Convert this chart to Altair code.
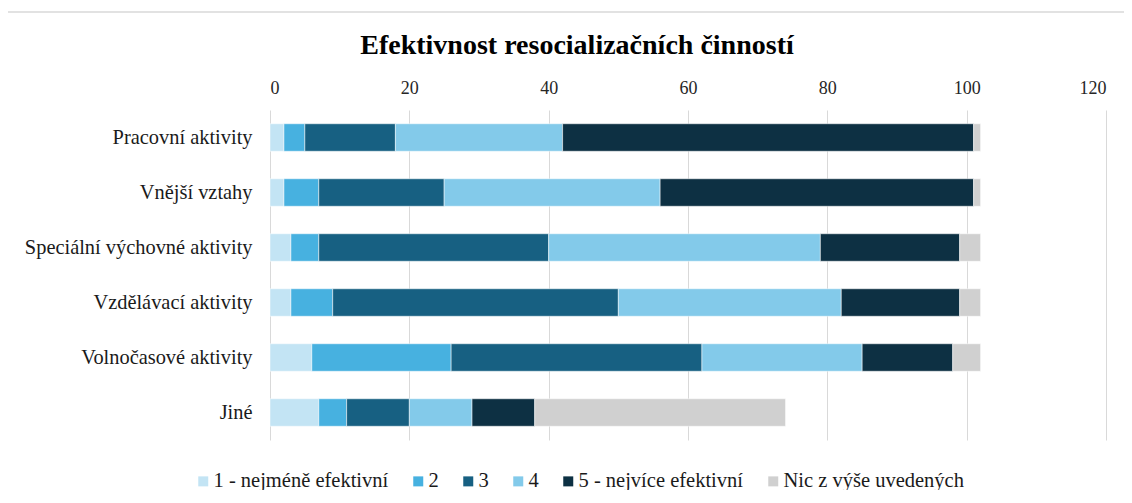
import altair as alt
import pandas as pd

categories = ["Pracovní aktivity", "Vnější vztahy", "Speciální výchovné aktivity",
              "Vzdělávací aktivity", "Volnočasové aktivity", "Jiné"]
series = ["1 - nejméně efektivní", "2", "3", "4", "5 - nejvíce efektivní", "Nic z výše uvedených"]
colors = ["#C3E4F4", "#47B1E0", "#176082", "#83CAEA", "#0D3043", "#D0D0D0"]

s1 = [2, 2, 3, 3, 6, 7]
s2 = [3, 5, 4, 6, 20, 4]
s3 = [13, 18, 33, 41, 36, 9]
s4 = [24, 31, 39, 32, 23, 9]
s5 = [59, 45, 20, 17, 13, 9]
s6 = [1, 1, 3, 3, 4, 36]

x_ticks = [0, 20, 40, 60, 80, 100, 120]

rows = []
for si, (name, vals) in enumerate(zip(series, [s1, s2, s3, s4, s5, s6])):
    for c, v in zip(categories, vals):
        rows.append({"kategorie": c, "hodnoceni": name, "hodnota": v, "poradi": si})
df = pd.DataFrame(rows)

FONT = "Liberation Serif"

bars = alt.Chart(df).mark_bar(stroke="white", strokeWidth=0.5).encode(
    y=alt.Y("kategorie:N", sort=categories, title=None,
            scale=alt.Scale(paddingInner=0.5, paddingOuter=0.25),
            axis=alt.Axis(ticks=False, domain=False, labelPadding=18, labelLimit=0,
                          labelFontSize=20.4, labelFont=FONT, labelColor="#1a1a1a",
                          grid=False)),
    x=alt.X("hodnota:Q", stack="zero", title=None,
            scale=alt.Scale(domain=[0, 120], nice=False),
            axis=alt.Axis(orient="top", values=x_ticks, ticks=False, domain=False,
                          labelPadding=13, labelFontSize=18, labelFont=FONT,
                          labelColor="#262626", grid=True, gridColor="#D9D9D9",
                          gridWidth=1)),
    color=alt.Color("hodnoceni:N", sort=series,
                    scale=alt.Scale(domain=series, range=colors),
                    legend=alt.Legend(title=None, orient="none", direction="horizontal",
                                      legendX=-77, legendY=361, labelLimit=0,
                                      symbolType="square", symbolSize=100,
                                      symbolStrokeWidth=0,
                                      labelFontSize=20.5, labelFont=FONT,
                                      labelColor="#1a1a1a", columnPadding=19,
                                      labelOffset=0)),
    order=alt.Order("poradi:Q"),
)

border = alt.Chart(pd.DataFrame({"a": [0]})).mark_rect(
    fill=None, stroke="#D9D9D9", strokeWidth=1.5
).encode(
    x=alt.value(-266), x2=alt.value(880), y=alt.value(-98), y2=alt.value(420)
)

chart = alt.layer(border, bars).properties(
    width=836, height=330,
    title=alt.TitleParams("Efektivnost resocializačních činností", font=FONT,
                          fontSize=28, fontWeight="bold", color="#000000",
                          anchor="middle", dx=-111, offset=0, dy=49),
    autosize=alt.AutoSizeParams(type="none"),
    padding={"left": 262, "top": 102, "right": 18, "bottom": 50},
).configure_view(stroke=None)

chart.save("out.html", embed_options={"renderer": "svg", "actions": False})
